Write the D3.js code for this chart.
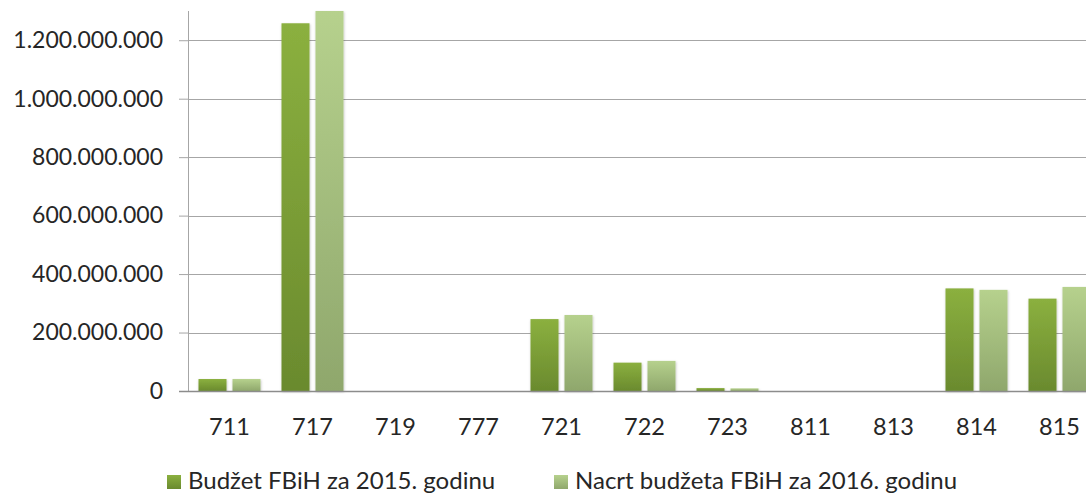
<!DOCTYPE html>
<html>
<head>
<meta charset="utf-8">
<script src="https://cdn.jsdelivr.net/npm/d3@7"></script>
<style>
  html, body { margin: 0; padding: 0; background: #fff; overflow: hidden; }
  text { font-family: Lato, "Open Sans", sans-serif; fill: #262626; }
</style>
</head>
<body>
<svg id="chart" width="1086" height="493"></svg>
<script>
// Podaci — kategorije (ekonomski kodovi) i dvije serije
const categories = ['711', '717', '719', '777', '721', '722', '723', '811', '813', '814', '815']
const budget2015 = [41e6, 1258e6, 0, 0, 246e6, 97e6, 10e6, 0, 0, 351e6, 316e6]
const draft2016  = [41e6, 1300e6, 0, 0, 260e6, 103e6, 9e6, 0, 0, 346e6, 356e6]
const yTicks     = [0, 200e6, 400e6, 600e6, 800e6, 1000e6, 1200e6]
const seriesNames = ['Budžet FBiH za 2015. godinu', 'Nacrt budžeta FBiH za 2016. godinu']

const W = 1086, H = 493
const plotLeft = 188, plotRight = 1101, plotTop = 11, plotBottom = 391

const svg = d3.select('#chart')
const defs = svg.append('defs')

// Gradijenti za stupce (svjetlije gore, tamnije dolje)
const grads = [
  { id: 'g2015', top: '#8bb03f', bot: '#6a8a2e' },
  { id: 'g2016', top: '#b6d18d', bot: '#8fa76c' }
]
grads.forEach(g => {
  const lg = defs.append('linearGradient').attr('id', g.id)
    .attr('x1', 0).attr('y1', 0).attr('x2', 0).attr('y2', 1)
  lg.append('stop').attr('offset', '0%').attr('stop-color', g.top)
  lg.append('stop').attr('offset', '100%').attr('stop-color', g.bot)
})

const sh = defs.append('filter').attr('id', 'shadow')
  .attr('x', '-20%').attr('y', '-5%').attr('width', '140%').attr('height', '110%')
sh.append('feDropShadow').attr('dx', 0.5).attr('dy', 1).attr('stdDeviation', 1.2)
  .attr('flood-color', '#000').attr('flood-opacity', 0.25)

const x0 = d3.scaleBand().domain(categories).range([plotLeft, plotRight])
const x1 = d3.scaleBand().domain([0, 1]).range([10.5, x0.bandwidth() - 10.5]).paddingInner(0.176)
const y  = d3.scaleLinear().domain([0, 1.3e9]).range([plotBottom, plotTop])

const locale = d3.formatLocale({ decimal: ',', thousands: '.', grouping: [3], currency: ['', ''] })
const fmt = locale.format(',d')

// Mreža
svg.append('g').selectAll('line')
  .data(yTicks.filter(d => d > 0)).join('line')
  .attr('x1', plotLeft).attr('x2', W)
  .attr('y1', d => Math.round(y(d)) + 0.5).attr('y2', d => Math.round(y(d)) + 0.5)
  .attr('stroke', '#a6a6a6').attr('stroke-width', 1)

// Y os
const yAxis = svg.append('g').attr('transform', `translate(${plotLeft},0)`)
  .call(d3.axisLeft(y).tickValues(yTicks).tickFormat(fmt).tickSize(9).tickPadding(16))
yAxis.select('.domain').remove()
yAxis.selectAll('line').attr('stroke', '#a6a6a6')
yAxis.selectAll('text').style('font-size', '23px').attr('fill', '#262626')
svg.append('line').attr('x1', plotLeft + 0.5).attr('x2', plotLeft + 0.5)
  .attr('y1', plotTop).attr('y2', plotBottom).attr('stroke', '#a6a6a6')

// Stupci
const groups = svg.append('g').selectAll('g')
  .data(categories).join('g')
  .attr('transform', d => `translate(${x0(d)},0)`)

groups.selectAll('rect')
  .data((d, i) => [budget2015[i], draft2016[i]])
  .join('rect')
  .attr('x', (d, j) => x1(j))
  .attr('width', x1.bandwidth())
  .attr('y', d => y(d))
  .attr('height', d => plotBottom - y(d))
  .attr('fill', (d, j) => `url(#${grads[j].id})`)
  .attr('filter', d => d > 0 ? 'url(#shadow)' : null)

// Nulta linija
svg.append('line').attr('x1', plotLeft - 9).attr('x2', W)
  .attr('y1', plotBottom + 0.5).attr('y2', plotBottom + 0.5)
  .attr('stroke', '#8c8c8c').attr('stroke-width', 1.5)

// X oznake
svg.append('g').selectAll('text')
  .data(categories).join('text')
  .attr('x', d => x0(d) + x0.bandwidth() / 2)
  .attr('y', 435)
  .attr('text-anchor', 'middle')
  .style('font-size', '23.5px')
  .text(d => d)

// Legenda
const legendX = [167, 554]
const leg = svg.append('g').selectAll('g')
  .data(seriesNames).join('g')
  .attr('transform', (d, i) => `translate(${legendX[i]},0)`)
leg.append('rect').attr('x', 0).attr('y', 475).attr('width', 14).attr('height', 14)
  .attr('fill', (d, i) => `url(#${grads[i].id})`)
leg.append('text').attr('x', 21).attr('y', 489)
  .style('font-size', '24px')
  .text(d => d)
</script>
</body>
</html>
